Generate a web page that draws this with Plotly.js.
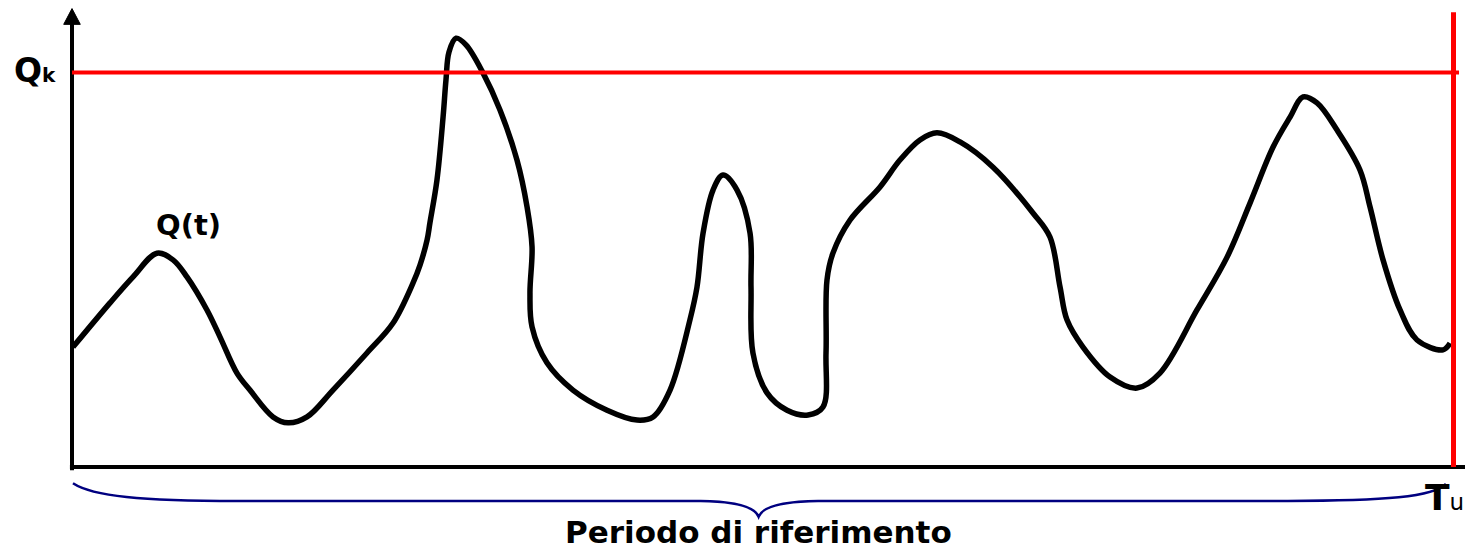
<!DOCTYPE html>
<html><head><meta charset="utf-8">
<script src="https://cdn.plot.ly/plotly-3.0.1.min.js"></script>
<style>html,body{margin:0;padding:0;background:#fff}</style>
</head><body>
<div id="chart" style="width:1465px;height:553px"></div>
<script>
// time t (Tu = 100) and flow Q (Qk = 100)
const time = [0.07, 2.75, 4.42, 6.15, 7.31, 8.32, 9.77, 10.71, 11.94, 12.88, 14.55, 15.64, 17.01, 18.89, 21.35, 23.24, 24.68, 25.19, 25.70, 25.91, 26.42, 26.86, 27.07, 27.29, 27.80, 28.52, 29.75, 30.98, 32.21, 32.94, 33.30, 33.15, 33.30, 34.38, 36.26, 38.73, 40.90, 42.06, 43.29, 44.73, 45.24, 45.68, 46.40, 47.12, 48.14, 49.08, 49.15, 49.29, 50.31, 51.76, 53.28, 54.36, 54.58, 54.65, 55.08, 56.32, 58.49, 59.93, 61.38, 62.61, 64.28, 66.67, 69.56, 70.79, 71.52, 72.02, 73.18, 75.14, 77.09, 78.75, 81.43, 83.61, 85.27, 86.94, 88.17, 89.11, 90.12, 91.57, 93.23, 93.96, 94.90, 96.13, 97.36, 99.24, 99.75];
const flow = [30.4, 41.6, 48.2, 54.2, 52.5, 48.2, 39.8, 33.0, 23.8, 19.5, 12.7, 11.2, 12.7, 19.5, 28.9, 36.5, 46.6, 51.2, 57.5, 61.9, 72.8, 88.7, 98.1, 105.2, 108.7, 107.0, 99.9, 90.5, 77.8, 65.9, 55.8, 44.1, 35.5, 26.4, 19.5, 14.4, 11.9, 12.7, 19.5, 37.3, 45.6, 59.3, 70.2, 74.0, 70.2, 59.3, 45.6, 28.9, 18.8, 14.4, 13.2, 15.2, 28.9, 47.4, 54.2, 62.6, 71.0, 77.8, 82.9, 84.7, 82.4, 76.0, 64.4, 58.3, 45.6, 37.3, 30.4, 22.8, 20.0, 23.8, 39.8, 53.2, 66.9, 81.1, 88.7, 93.8, 92.3, 85.4, 75.3, 65.9, 52.5, 39.8, 32.2, 29.7, 31.4];
const Qk = 100;
const Tu = 100;
const labels = {qk: "Q", qkSub: "k", curve: "Q(t)", tu: "T", tuSub: "u", period: "Periodo di riferimento"};

const FONT = "DejaVu Sans";
const trace = {
  x: time, y: flow, type: "scatter", mode: "lines",
  line: {color: "#000000", width: 5.5, shape: "spline", smoothing: 1.0},
  hoverinfo: "skip"
};

const mid = Tu / 2;
const brace = `M 0.07 -4.1 C 1.5 -7.4 5 -8.6 12 -8.6 L ${mid-4.5} -8.6 C ${mid-2} -8.7 ${mid-0.6} -10 ${mid-0.3} -12.6 ` +
              `C ${mid} -10 ${mid+1.4} -8.7 ${mid+4} -8.6 L 88 -8.6 C 95 -8.6 98.6 -7.6 99.45 -4.3`;

const shapes = [
  {type: "line", xref: "x", yref: "y", x0: 0, x1: 0, y0: -0.8, y1: 112.5, line: {color: "#000", width: 4}},
  {type: "path", xref: "x", yref: "y", path: "M -0.6 112.2 L 0 116.2 L 0.6 112.2 Z", fillcolor: "#000", line: {color: "#000", width: 1}},
  {type: "line", xref: "x", yref: "y", x0: -0.15, x1: 101, y0: 0, y1: 0, line: {color: "#000", width: 4}},
  {type: "line", xref: "x", yref: "y", x0: 0, x1: 100.4, y0: Qk, y1: Qk, line: {color: "#ff0000", width: 4}},
  {type: "line", xref: "x", yref: "y", x0: Tu, x1: Tu, y0: 0, y1: 115.3, line: {color: "#ff0000", width: 5}},
  {type: "path", xref: "x", yref: "y", path: brace, line: {color: "#000080", width: 2.5}}
];

const annotations = [
  {xref: "paper", yref: "paper", x: 12/1465, y: 1 - 70/553, xanchor: "left", yanchor: "middle", showarrow: false,
   text: labels.qk + "<span style='font-size:20px'>" + labels.qkSub + "</span>", font: {family: FONT, size: 33, color: "#000", weight: "bold"}},
  {xref: "paper", yref: "paper", x: 188/1465, y: 1 - 225/553, xanchor: "center", yanchor: "middle", showarrow: false,
   text: labels.curve, font: {family: FONT, size: 29, color: "#000", weight: "bold"}},
  {xref: "paper", yref: "paper", x: 1423/1465, y: 1 - 497/553, xanchor: "left", yanchor: "middle", showarrow: false,
   text: labels.tu + "<span style='font-size:23px;font-weight:normal'>" + labels.tuSub + "</span>", font: {family: FONT, size: 36, color: "#000", weight: "bold"}},
  {xref: "paper", yref: "paper", x: 758/1465, y: 1 - 532/553, xanchor: "center", yanchor: "middle", showarrow: false,
   text: labels.period, font: {family: FONT, size: 31, color: "#000", weight: "bold"}}
];

const layout = {
  width: 1465, height: 553,
  margin: {l: 0, r: 0, t: 0, b: 0, pad: 0},
  paper_bgcolor: "#ffffff", plot_bgcolor: "#ffffff",
  showlegend: false, hovermode: false,
  xaxis: {range: [-72/13.815, (1465-72)/13.815], visible: false, showgrid: false, zeroline: false, fixedrange: true},
  yaxis: {range: [(467-553)/3.945, 467/3.945], visible: false, showgrid: false, zeroline: false, fixedrange: true},
  shapes: shapes,
  annotations: annotations
};

Plotly.newPlot("chart", [trace], layout, {staticPlot: true, displayModeBar: false});
</script>
</body></html>
